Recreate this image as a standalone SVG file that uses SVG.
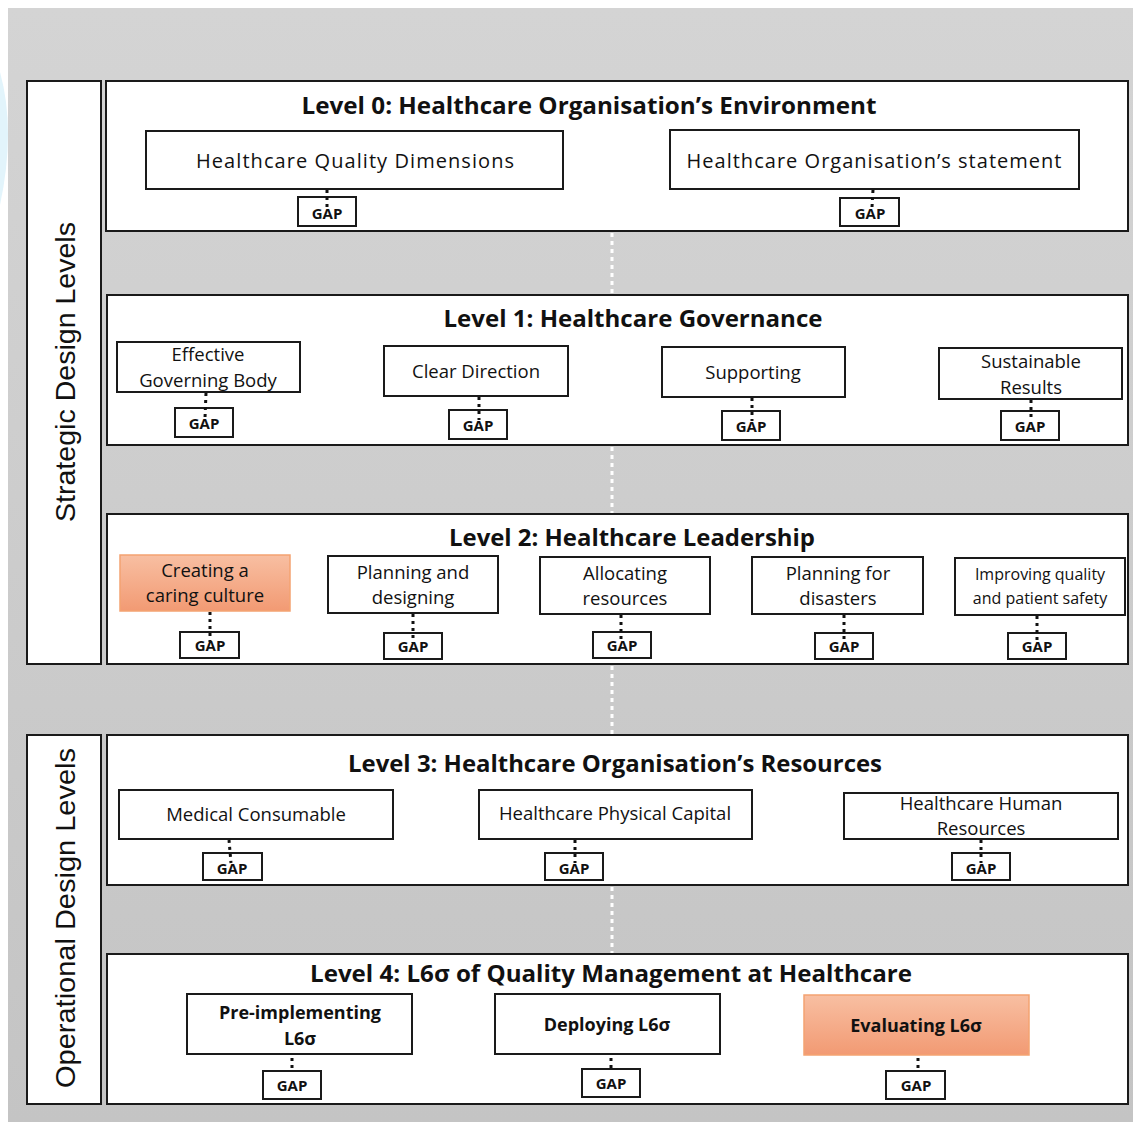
<svg xmlns="http://www.w3.org/2000/svg" width="1133" height="1122" viewBox="0 0 1133 1122">
<defs>
<linearGradient id="bg" x1="0" y1="0" x2="0" y2="1">
<stop offset="0" stop-color="#d4d4d4"/>
<stop offset="1" stop-color="#c4c4c4"/>
</linearGradient>
<linearGradient id="orange" x1="0" y1="0" x2="0" y2="1">
<stop offset="0" stop-color="#f8bfa2"/>
<stop offset="1" stop-color="#f29a73"/>
</linearGradient>
<style>
.panel{fill:#ffffff;stroke:#1a1a1a;stroke-width:2}
.node{fill:#ffffff;stroke:#1a1a1a;stroke-width:2}
.hl{fill:url(#orange);stroke:#f4a371;stroke-width:1.5}
.gap{fill:#ffffff;stroke:#1a1a1a;stroke-width:2}
.title{font-family:"Open Sans","Liberation Sans",sans-serif;font-weight:bold;font-size:23px;fill:#111;text-anchor:middle}
.side{font-family:"Liberation Sans","Open Sans",sans-serif;font-size:28px;fill:#111;text-anchor:middle}
.t{font-family:"Open Sans","Liberation Sans",sans-serif;font-size:18.5px;fill:#111;text-anchor:middle}
.tl{font-family:"Open Sans","Liberation Sans",sans-serif;font-size:20px;fill:#111;text-anchor:middle}
.ts{font-family:"Open Sans","Liberation Sans",sans-serif;font-size:16px;fill:#111;text-anchor:middle}
.tb{font-family:"Open Sans","Liberation Sans",sans-serif;font-size:18px;font-weight:bold;fill:#111;text-anchor:middle}
.g{font-family:"Open Sans","Liberation Sans",sans-serif;font-size:15px;font-weight:bold;fill:#111;text-anchor:middle}
.dot{stroke:#111;stroke-width:3;stroke-dasharray:3 4;fill:none}
.wdot{stroke:#ffffff;stroke-width:3;stroke-dasharray:4 4;fill:none}
</style>
</defs>

<rect x="0" y="0" width="1133" height="1122" fill="#ffffff"/>
<path d="M0,72 Q16,130 0,205 Z" fill="#e2f4fb"/>
<rect x="8" y="8" width="1125" height="1114" fill="url(#bg)"/>

<g id="strategic-label">
<rect x="27" y="81" width="74" height="583" class="panel"/>
<text class="side" transform="translate(75,372) rotate(-90)" textLength="300" lengthAdjust="spacingAndGlyphs">Strategic Design Levels</text>
</g>
<g id="operational-label">
<rect x="27" y="735" width="74" height="369" class="panel"/>
<text class="side" transform="translate(75,918) rotate(-90)" textLength="340" lengthAdjust="spacingAndGlyphs">Operational Design Levels</text>
</g>

<g id="level0">
<rect x="106" y="81" width="1022" height="150" class="panel"/>
<text class="title" x="589" y="114" textLength="575" lengthAdjust="spacingAndGlyphs">Level 0:  Healthcare Organisation’s Environment</text>
</g>
<g id="level1">
<rect x="107" y="295" width="1021" height="150" class="panel"/>
<text class="title" x="633" y="327" textLength="379" lengthAdjust="spacingAndGlyphs">Level 1: Healthcare Governance</text>
</g>
<g id="level2">
<rect x="107" y="514" width="1021" height="150" class="panel"/>
<text class="title" x="632" y="546" textLength="366" lengthAdjust="spacingAndGlyphs">Level 2: Healthcare Leadership</text>
</g>
<g id="level3">
<rect x="107" y="735" width="1021" height="150" class="panel"/>
<text class="title" x="615" y="772" textLength="534" lengthAdjust="spacingAndGlyphs">Level 3: Healthcare Organisation’s Resources</text>
</g>
<g id="level4">
<rect x="107" y="954" width="1021" height="150" class="panel"/>
<text class="title" x="611" y="982" textLength="602" lengthAdjust="spacingAndGlyphs">Level 4: L6σ of Quality Management at Healthcare</text>
</g>

<g id="n-quality-dimensions">
<rect x="146" y="131" width="417" height="58" class="node"/>
<text class="tl" x="355" y="168" textLength="318" lengthAdjust="spacing">Healthcare Quality Dimensions</text>
</g>
<g id="gap-0a"><rect x="298" y="197" width="58" height="29" class="gap"/><text class="g" x="327" y="219">GAP</text></g>
<g id="n-org-statement">
<rect x="670" y="130" width="409" height="59" class="node"/>
<text class="tl" x="874" y="168" textLength="375" lengthAdjust="spacing">Healthcare Organisation’s statement</text>
</g>
<g id="gap-0b"><rect x="840" y="198" width="59" height="28" class="gap"/><text class="g" x="870" y="219">GAP</text></g>

<g id="n-governing-body">
<rect x="117" y="342" width="183" height="50" class="node"/>
<text class="t" x="208" y="361">Effective</text>
<text class="t" x="208" y="387">Governing Body</text>
</g>
<g id="gap-1a"><rect x="175" y="408" width="58" height="29" class="gap"/><text class="g" x="204" y="429">GAP</text></g>
<g id="n-clear-direction">
<rect x="384" y="346" width="184" height="50" class="node"/>
<text class="t" x="476" y="378">Clear Direction</text>
</g>
<g id="gap-1b"><rect x="449" y="410" width="58" height="29" class="gap"/><text class="g" x="478" y="431">GAP</text></g>
<g id="n-supporting">
<rect x="662" y="347" width="183" height="50" class="node"/>
<text class="t" x="753" y="379">Supporting</text>
</g>
<g id="gap-1c"><rect x="722" y="411" width="58" height="29" class="gap"/><text class="g" x="751" y="432">GAP</text></g>
<g id="n-sustainable">
<rect x="939" y="348" width="183" height="51" class="node"/>
<text class="t" x="1031" y="368">Sustainable</text>
<text class="t" x="1031" y="394">Results</text>
</g>
<g id="gap-1d"><rect x="1001" y="411" width="58" height="29" class="gap"/><text class="g" x="1030" y="432">GAP</text></g>

<g id="n-caring-culture">
<rect x="120" y="555" width="170" height="56" class="hl"/>
<text class="t" x="205" y="577">Creating a</text>
<text class="t" x="205" y="602">caring culture</text>
</g>
<g id="gap-2a"><rect x="180" y="632" width="59" height="26" class="gap"/><text class="g" x="210" y="651">GAP</text></g>
<g id="n-planning-designing">
<rect x="328" y="556" width="170" height="57" class="node"/>
<text class="t" x="413" y="579">Planning and</text>
<text class="t" x="413" y="604">designing</text>
</g>
<g id="gap-2b"><rect x="384" y="633" width="58" height="26" class="gap"/><text class="g" x="413" y="652">GAP</text></g>
<g id="n-allocating">
<rect x="540" y="557" width="170" height="57" class="node"/>
<text class="t" x="625" y="580">Allocating</text>
<text class="t" x="625" y="605">resources</text>
</g>
<g id="gap-2c"><rect x="593" y="632" width="58" height="26" class="gap"/><text class="g" x="622" y="651">GAP</text></g>
<g id="n-disasters">
<rect x="752" y="557" width="171" height="57" class="node"/>
<text class="t" x="838" y="580">Planning for</text>
<text class="t" x="838" y="605">disasters</text>
</g>
<g id="gap-2d"><rect x="815" y="633" width="58" height="26" class="gap"/><text class="g" x="844" y="652">GAP</text></g>
<g id="n-improving">
<rect x="955" y="558" width="170" height="57" class="node"/>
<text class="ts" x="1040" y="580">Improving quality</text>
<text class="ts" x="1040" y="604">and patient safety</text>
</g>
<g id="gap-2e"><rect x="1008" y="633" width="58" height="26" class="gap"/><text class="g" x="1037" y="652">GAP</text></g>

<g id="n-medical">
<rect x="119" y="790" width="274" height="49" class="node"/>
<text class="t" x="256" y="821">Medical Consumable</text>
</g>
<g id="gap-3a"><rect x="203" y="853" width="59" height="27" class="gap"/><text class="g" x="232" y="874">GAP</text></g>
<g id="n-physical">
<rect x="479" y="790" width="273" height="49" class="node"/>
<text class="t" x="615" y="820">Healthcare Physical Capital</text>
</g>
<g id="gap-3b"><rect x="545" y="853" width="58" height="27" class="gap"/><text class="g" x="574" y="874">GAP</text></g>
<g id="n-human">
<rect x="844" y="793" width="274" height="46" class="node"/>
<text class="t" x="981" y="810">Healthcare Human</text>
<text class="t" x="981" y="835">Resources</text>
</g>
<g id="gap-3c"><rect x="952" y="853" width="58" height="27" class="gap"/><text class="g" x="981" y="874">GAP</text></g>

<g id="n-pre-implementing">
<rect x="187" y="994" width="225" height="60" class="node"/>
<text class="tb" x="300" y="1019">Pre-implementing</text>
<text class="tb" x="300" y="1045">L6σ</text>
</g>
<g id="gap-4a"><rect x="263" y="1071" width="58" height="28" class="gap"/><text class="g" x="292" y="1091">GAP</text></g>
<g id="n-deploying">
<rect x="495" y="994" width="225" height="60" class="node"/>
<text class="tb" x="607" y="1031">Deploying L6σ</text>
</g>
<g id="gap-4b"><rect x="582" y="1069" width="58" height="28" class="gap"/><text class="g" x="611" y="1089">GAP</text></g>
<g id="n-evaluating">
<rect x="804" y="995" width="225" height="60" class="hl"/>
<text class="tb" x="916" y="1032">Evaluating L6σ</text>
</g>
<g id="gap-4c"><rect x="886" y="1071" width="59" height="28" class="gap"/><text class="g" x="916" y="1091">GAP</text></g>

<g id="connectors">
<line class="wdot" x1="612" y1="233" x2="612" y2="294"/>
<line class="wdot" x1="612" y1="447" x2="612" y2="513"/>
<line class="wdot" x1="612" y1="666" x2="612" y2="734"/>
<line class="wdot" x1="612" y1="887" x2="612" y2="953"/>

<line class="dot" x1="327" y1="190" x2="327" y2="207"/>
<line class="dot" x1="873" y1="190" x2="872" y2="207"/>

<line class="dot" x1="206" y1="393" x2="205" y2="418"/>
<line class="dot" x1="479" y1="397" x2="479" y2="420"/>
<line class="dot" x1="752" y1="398" x2="752" y2="421"/>
<line class="dot" x1="1031" y1="400" x2="1031" y2="421"/>

<line class="dot" x1="210" y1="612" x2="210" y2="642"/>
<line class="dot" x1="413" y1="614" x2="413" y2="643"/>
<line class="dot" x1="621" y1="615" x2="621" y2="642"/>
<line class="dot" x1="844" y1="615" x2="844" y2="643"/>
<line class="dot" x1="1037" y1="616" x2="1037" y2="643"/>

<line class="dot" x1="229" y1="840" x2="231" y2="863"/>
<line class="dot" x1="575" y1="840" x2="575" y2="863"/>
<line class="dot" x1="981" y1="840" x2="981" y2="863"/>

<line class="dot" x1="292" y1="1058" x2="292" y2="1068"/>
<line class="dot" x1="611" y1="1058" x2="611" y2="1068"/>
<line class="dot" x1="918" y1="1058" x2="918" y2="1068"/>
</g>
</svg>
